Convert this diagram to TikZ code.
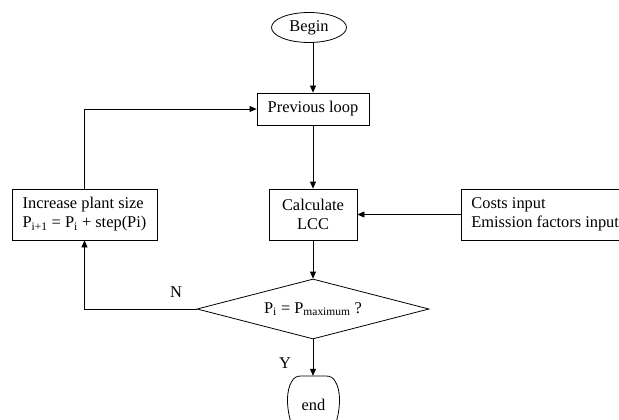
\documentclass[tikz,border=0pt]{standalone}
\usepackage{fontspec}
\setmainfont{Liberation Serif}
\usetikzlibrary{arrows.meta,shapes.geometric}
\begin{document}
\begin{tikzpicture}[x=1pt,y=-1pt, font=\fontsize{16.4}{19}\selectfont,
  box/.style={draw, line width=0.8pt, inner sep=0pt, align=center},
  arr/.style={-{Triangle[length=7pt,width=6pt]}, line width=0.8pt},
  lab/.style={inner sep=0pt}]
\useasboundingbox (0,0) rectangle (619,420);
\node[draw, ellipse, minimum width=75, minimum height=30, inner sep=0pt, line width=0.8pt] (begin) at (309,27.5) {Begin};
\node[box, minimum width=112, minimum height=32] (prev) at (313,109) {Previous loop};
\node[box, minimum width=88, minimum height=51] (calc) at (313,214.5) {Calculate\\LCC};
\node[box, minimum width=145, minimum height=51, align=left] (inc) at (84.5,214.5) {Increase plant size\\P\textsubscript{i+1} = P\textsubscript{i} + step(Pi)};
\node[box, minimum height=51, anchor=west, align=left, inner xsep=10pt] (cost) at (461,214.5) {Costs input\\Emission factors input};
\node[draw, diamond, aspect=3.93, minimum width=232, minimum height=60, inner sep=0pt, line width=0.8pt] (dec) at (313,309) {P\textsubscript{i} = P\textsubscript{maximum} ?};
\node[minimum width=51, minimum height=58, inner sep=0pt] (end) at (313.5,405) {end};
\draw[line width=0.8pt] (292,426) .. controls (286,408) and (286,390) .. (292,381)
  .. controls (294,377.5) and (297,376) .. (301,376) -- (326,376)
  .. controls (330,376) and (333,377.5) .. (335,381)
  .. controls (341,390) and (341,408) .. (335,426);
\node[lab] (nlab) at (176,292) {N};
\node[lab] (ylab) at (285,363) {Y};
\draw[arr] (begin.south -| prev.north) -- (prev.north);
\draw[arr] (prev) -- (calc);
\draw[arr] (cost.west) -- (calc.east);
\draw[arr] (calc) -- (dec);
\draw[arr] (dec.west) -| (inc.south);
\draw[arr] (inc.north) |- (prev.west);
\draw[arr] (dec.south) -- (end.north -| dec.south);
\end{tikzpicture}
\end{document}
